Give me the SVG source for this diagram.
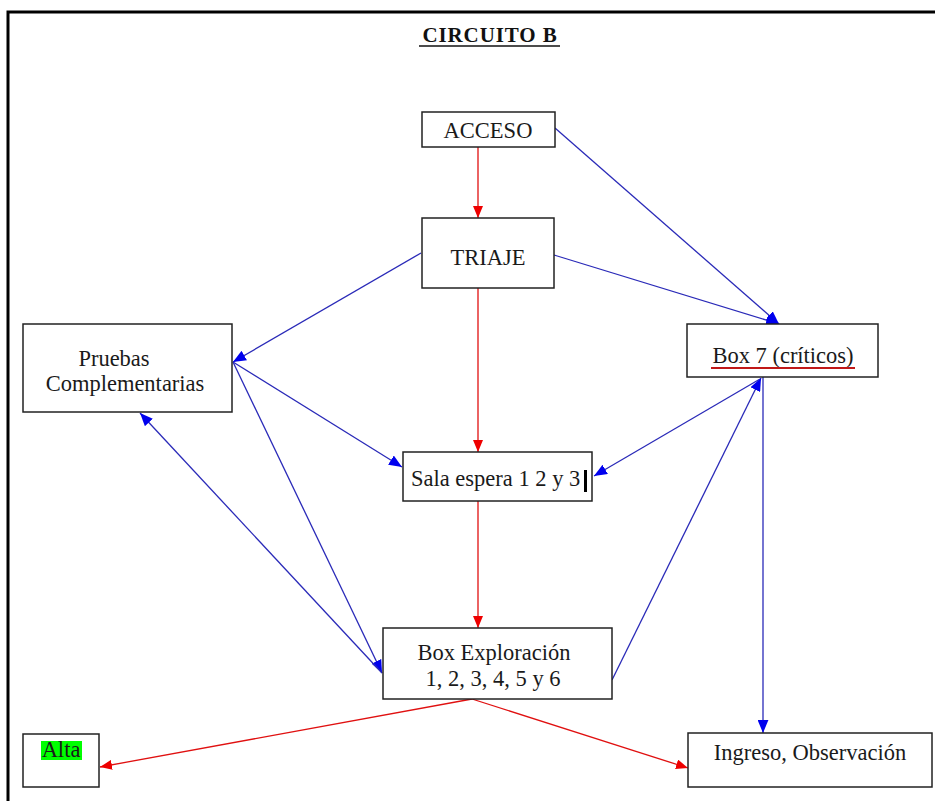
<svg xmlns="http://www.w3.org/2000/svg" width="935" height="801" viewBox="0 0 935 801">
<style>
.box{fill:#fff;stroke:#222;stroke-width:1.5}
.t{font-family:"Liberation Serif","Times New Roman",serif;font-size:22.5px;fill:#1a1a1a}
.red{stroke:#e01010;stroke-width:1.3;fill:none}
.blue{stroke:#2a2ab8;stroke-width:1.3;fill:none}
</style>
<defs>
<marker id="ar" viewBox="0 0 12 10" refX="12" refY="5" markerWidth="12" markerHeight="10" markerUnits="userSpaceOnUse" orient="auto"><path d="M0,0 L12,5 L0,10 z" fill="#ee0000"/></marker>
<marker id="ab" viewBox="0 0 12 10" refX="12" refY="5" markerWidth="13" markerHeight="11" markerUnits="userSpaceOnUse" orient="auto"><path d="M0,0 L12,5 L0,10 z" fill="#0000ee"/></marker>
</defs>
<rect width="935" height="801" fill="#fff"/>
<path d="M8,801 V12 H935" fill="none" stroke="#000" stroke-width="3"/>
<text x="490" y="42" text-anchor="middle" font-family="'Liberation Serif','Times New Roman',serif" font-size="21" font-weight="bold" letter-spacing="0.9" fill="#111">CIRCUITO B</text>
<line x1="419" y1="46" x2="560" y2="46" stroke="#111" stroke-width="1.5"/>
<g id="connectors">
<line class="red" x1="478" y1="147" x2="478" y2="218" marker-end="url(#ar)"/>
<line class="red" x1="478" y1="288" x2="478" y2="452" marker-end="url(#ar)"/>
<line class="red" x1="478" y1="501" x2="478" y2="628" marker-end="url(#ar)"/>
<line class="red" x1="472" y1="699" x2="100" y2="767" marker-end="url(#ar)"/>
<line class="red" x1="472" y1="699" x2="688" y2="768" marker-end="url(#ar)"/>
<line class="blue" x1="555" y1="128" x2="779" y2="324" marker-end="url(#ab)"/>
<line class="blue" x1="554" y1="255" x2="779" y2="324" marker-end="url(#ab)"/>
<line class="blue" x1="421" y1="253" x2="233" y2="362" marker-end="url(#ab)"/>
<line class="blue" x1="233" y1="362" x2="402" y2="467" marker-end="url(#ab)"/>
<line class="blue" x1="233" y1="362" x2="382" y2="673" marker-end="url(#ab)"/>
<line class="blue" x1="382" y1="673" x2="140" y2="413" marker-end="url(#ab)"/>
<line class="blue" x1="760" y1="379" x2="594" y2="476" marker-end="url(#ab)"/>
<line class="blue" x1="612" y1="680" x2="761" y2="378" marker-end="url(#ab)"/>
<line class="blue" x1="763" y1="377" x2="763" y2="733" marker-end="url(#ab)"/>
</g>
<g id="acceso"><rect class="box" x="422" y="112" width="133" height="35"/><text class="t" x="488" y="138" text-anchor="middle">ACCESO</text></g>
<g id="triaje"><rect class="box" x="422" y="218" width="132" height="70"/><text class="t" x="488" y="265" text-anchor="middle">TRIAJE</text></g>
<g id="pruebas"><rect class="box" x="23" y="324" width="209" height="88"/><text class="t" x="114" y="366" text-anchor="middle">Pruebas</text><text class="t" x="125" y="391" text-anchor="middle">Complementarias</text></g>
<g id="box7"><rect class="box" x="687" y="324" width="191" height="53"/><text class="t" x="783" y="363" text-anchor="middle">Box 7 (críticos)</text><line x1="711" y1="368" x2="855" y2="368" stroke="#c01818" stroke-width="2"/></g>
<g id="sala"><rect class="box" x="403" y="452" width="189" height="49"/><text class="t" x="411" y="486">Sala espera 1 2 y 3</text><rect x="584" y="470" width="3" height="22" fill="#000"/></g>
<g id="exploracion"><rect class="box" x="383" y="628" width="229" height="71"/><text class="t" x="494" y="660" text-anchor="middle">Box Exploración</text><text class="t" x="493" y="686" text-anchor="middle">1, 2, 3, 4, 5 y 6</text></g>
<g id="alta"><rect class="box" x="23" y="734" width="76" height="53"/><rect x="41" y="741" width="41" height="19" fill="#00ff00"/><text class="t" x="61" y="757" text-anchor="middle">Alta</text></g>
<g id="ingreso"><rect class="box" x="688" y="733" width="244" height="54"/><text class="t" x="810" y="760" text-anchor="middle">Ingreso, Observación</text></g>
</svg>
